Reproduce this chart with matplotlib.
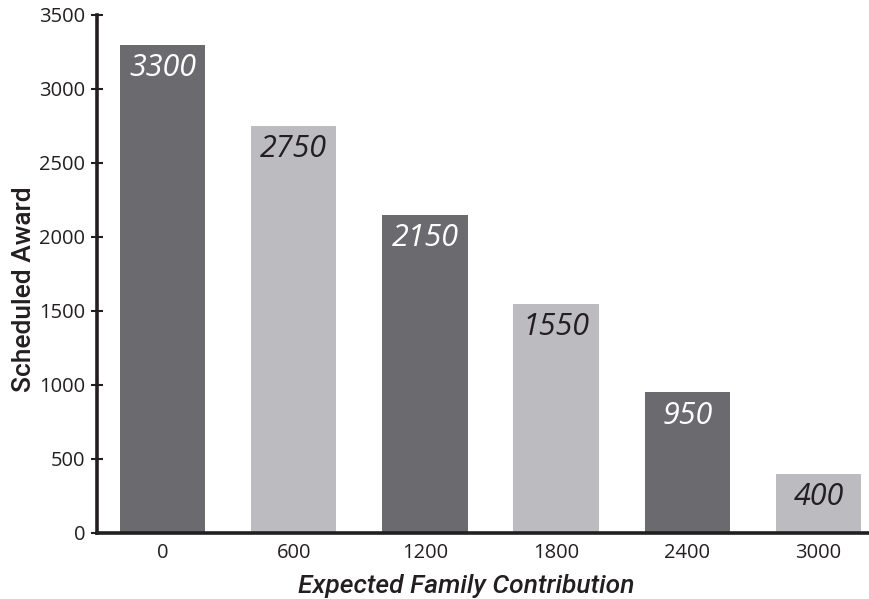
import matplotlib
matplotlib.use("Agg")
import matplotlib.pyplot as plt

categories = ["0", "600", "1200", "1800", "2400", "3000"]
awards = [3300, 2750, 2150, 1550, 950, 400]
bar_colors = ["#6b6b6f", "#bcbcc0", "#6b6b6f", "#bcbcc0", "#6b6b6f", "#bcbcc0"]
label_colors = ["white", "#231f20", "white", "#231f20", "white", "#231f20"]
yticks = [0, 500, 1000, 1500, 2000, 2500, 3000, 3500]

plt.rcParams['font.family'] = ['Open Sans', 'DejaVu Sans']
ink = "#231f20"

fig = plt.figure(figsize=(8.69, 5.99), dpi=100)
ax = fig.add_axes([97/869, (599-533)/599, 1 - 97/869, (533-15)/599])

x = list(range(len(categories)))
ax.bar(x, awards, width=0.65, color=bar_colors, zorder=1)
for xi, v, c in zip(x, awards, label_colors):
    ax.annotate(str(v), (xi, v), xytext=(0, -6), textcoords="offset points",
                ha="center", va="top", fontsize=22, style="italic", color=c)

ax.set_xlim(-0.5, 5.385)
ax.set_ylim(0, 3500)
ax.set_xticks(x)
ax.set_xticklabels(categories)
ax.set_yticks(yticks)
ax.tick_params(axis="x", length=0, pad=7, labelsize=14.5, colors=ink)
ax.tick_params(axis="y", direction="inout", length=9, width=1.5, pad=4,
               labelsize=14.5, colors=ink)
for s in ["top", "right"]:
    ax.spines[s].set_visible(False)
for s in ["left", "bottom"]:
    ax.spines[s].set_linewidth(2.6)
    ax.spines[s].set_color(ink)
    ax.spines[s].set_zorder(3)

ax.set_ylabel("Scheduled Award", fontsize=19, fontweight="medium", color=ink,
              family=["Roboto", "DejaVu Sans"])
ax.set_xlabel("Expected Family Contribution", fontsize=19, fontweight="medium",
              style="italic", color=ink, family=["Roboto", "DejaVu Sans"])
ax.yaxis.set_label_coords(-0.079, 0.471)
ax.xaxis.set_label_coords(0.478, -0.079)

fig.savefig("out.png", dpi=100)
